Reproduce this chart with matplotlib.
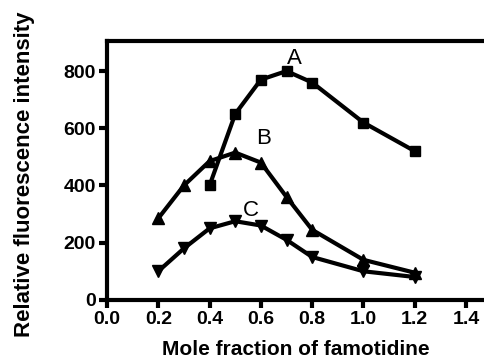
import matplotlib
matplotlib.use('Agg')
import matplotlib.pyplot as plt

plt.rcParams['font.family'] = ['Liberation Sans', 'DejaVu Sans']

x_a = [0.4, 0.5, 0.6, 0.7, 0.8, 1.0, 1.2]
y_a = [400, 650, 770, 800, 760, 620, 520]
x_bc = [0.2, 0.3, 0.4, 0.5, 0.6, 0.7, 0.8, 1.0, 1.2]
y_b = [285, 400, 485, 515, 480, 360, 245, 140, 95]
y_c = [100, 180, 250, 275, 260, 210, 150, 100, 80]
xticks = [0.0, 0.2, 0.4, 0.6, 0.8, 1.0, 1.2, 1.4]
yticks = [0, 200, 400, 600, 800]

fig = plt.figure(figsize=(4.84, 3.6), dpi=100)
ax = fig.add_axes([0.221, 0.167, 0.779, 0.719])

ax.plot(x_a, y_a, color='black', lw=3, marker='s', ms=7)
ax.plot(x_bc, y_b, color='black', lw=3, marker='^', ms=8)
ax.plot(x_bc, y_c, color='black', lw=3, marker='v', ms=8)

ax.text(0.73, 845, 'A', fontsize=16, ha='center', va='center')
ax.text(0.61, 565, 'B', fontsize=16, ha='center', va='center')
ax.text(0.56, 314, 'C', fontsize=16, ha='center', va='center')

ax.set_xlim(0, 1.47)
ax.set_ylim(0, 905)
ax.set_xticks(xticks)
ax.set_xticklabels([f'{t:.1f}' for t in xticks])
ax.set_yticks(yticks)
ax.spines['right'].set_visible(False)
for s in ['left', 'bottom', 'top']:
    ax.spines[s].set_linewidth(3)
ax.tick_params(width=3, length=6, labelsize=14, pad=2)
for lab in ax.get_xticklabels() + ax.get_yticklabels():
    lab.set_fontweight('bold')

ax.set_xlabel('Mole fraction of famotidine', fontsize=15, fontweight='bold', labelpad=9)
ax.set_ylabel('Relative fluorescence intensity', fontsize=16, fontweight='bold')
ax.yaxis.set_label_coords(-0.19, 0.485)

fig.savefig('out.png', dpi=100)
